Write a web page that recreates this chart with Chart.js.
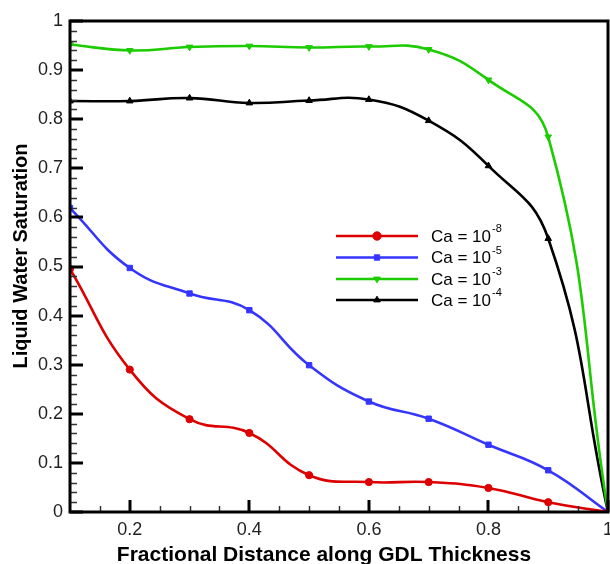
<!DOCTYPE html>
<html lang="en">
<head>
    <meta charset="UTF-8">
    <title>Liquid Water Saturation</title>
    <script src="https://cdn.jsdelivr.net/npm/chart.js"></script>
    <style>
        body { margin: 0; background: #fff; }
        canvas { display: block; }
    </style>
</head>
<body>
    <canvas id="chart" width="610" height="564"></canvas>

    <script>
        // fractional distance along the GDL
        const xValues = [0.1, 0.2, 0.3, 0.4, 0.5, 0.6, 0.7, 0.8, 0.9, 1.0];

        const caMinus8 = [0.495, 0.290, 0.189, 0.161, 0.075, 0.061, 0.061, 0.049, 0.020, 0.0];
        const caMinus5 = [0.619, 0.497, 0.445, 0.411, 0.299, 0.225, 0.190, 0.137, 0.085, 0.0];
        const caMinus3 = [0.952, 0.940, 0.947, 0.949, 0.946, 0.948, 0.942, 0.880, 0.764, 0.0];
        const caMinus4 = [0.837, 0.837, 0.843, 0.833, 0.838, 0.840, 0.797, 0.705, 0.557, 0.0];

        const seriesNames = ['Ca = 10', 'Ca = 10', 'Ca = 10', 'Ca = 10'];
        const seriesExps = ['-8', '-5', '-3', '-4'];

        const xTicks = [0.2, 0.4, 0.6, 0.8, 1];
        const yTicks = [0, 0.1, 0.2, 0.3, 0.4, 0.5, 0.6, 0.7, 0.8, 0.9, 1];

        const xTitle = 'Fractional Distance along GDL Thickness';
        const yTitle = 'Liquid Water Saturation';

        const styles = [
            { color: '#dd0000', point: 'circle', radius: 3.6, legendRadius: 4.2, rotation: 0 },
            { color: '#3535ff', point: 'rect', radius: 3.8, legendRadius: 3.8, rotation: 0 },
            { color: '#1ccc00', point: 'triangle', radius: 3.8, legendRadius: 3.8, rotation: 180 },
            { color: '#000000', point: 'triangle', radius: 3.8, legendRadius: 3.8, rotation: 0 }
        ];

        const allSeries = [caMinus8, caMinus5, caMinus3, caMinus4];

        const datasets = allSeries.map((vals, i) => ({
            label: seriesNames[i] + seriesExps[i],
            data: vals.map((v, j) => ({ x: xValues[j], y: v })),
            borderColor: styles[i].color,
            backgroundColor: styles[i].color,
            borderWidth: 2.6,
            pointStyle: styles[i].point,
            pointRadius: styles[i].radius,
            pointRotation: styles[i].rotation,
            pointBorderWidth: 1,
            tension: 0.45
        }));

        const FONT = '"Liberation Sans", Arial, sans-serif';

        // inward ticks, frame, axis titles and legend
        const framePlugin = {
            id: 'frame',
            afterDraw(chart) {
                const ctx = chart.ctx;
                const a = chart.chartArea;
                const xs = chart.scales.x;
                const ys = chart.scales.y;
                ctx.save();

                // minor ticks
                ctx.lineWidth = 1.5;
                ctx.strokeStyle = '#333';
                for (let k = 0; k <= 50; k++) {
                    if (k % 5 === 0) continue;
                    const py = Math.round(ys.getPixelForValue(k * 0.02)) + 0.5;
                    ctx.beginPath();
                    ctx.moveTo(a.left, py);
                    ctx.lineTo(a.left + 7, py);
                    ctx.stroke();
                }
                for (let k = 3; k < 20; k++) {
                    if (k % 4 === 0) continue;
                    const px = Math.round(xs.getPixelForValue(k * 0.05)) + 0.5;
                    ctx.beginPath();
                    ctx.moveTo(px, a.bottom);
                    ctx.lineTo(px, a.bottom - 6);
                    ctx.stroke();
                }

                // major ticks
                ctx.strokeStyle = '#000';
                ctx.lineWidth = 3;
                yTicks.forEach(v => {
                    const py = Math.round(ys.getPixelForValue(v));
                    ctx.beginPath();
                    ctx.moveTo(a.left, py);
                    ctx.lineTo(a.left + 13, py);
                    ctx.stroke();
                });
                xTicks.forEach(v => {
                    const px = Math.round(xs.getPixelForValue(v));
                    ctx.beginPath();
                    ctx.moveTo(px, a.bottom);
                    ctx.lineTo(px, a.bottom - 12);
                    ctx.stroke();
                });

                // frame
                ctx.lineWidth = 3;
                ctx.strokeRect(a.left, a.top, a.right - a.left, a.bottom - a.top);

                // axis titles
                ctx.fillStyle = '#000';
                ctx.textAlign = 'center';
                ctx.textBaseline = 'alphabetic';
                ctx.font = 'bold 21px ' + FONT;
                ctx.fillText(xTitle, 324, 561);

                ctx.save();
                ctx.translate(21, 256);
                ctx.rotate(-Math.PI / 2);
                ctx.textBaseline = 'middle';
                ctx.font = 'bold 20px ' + FONT;
                ctx.fillText(yTitle, 0, 0);
                ctx.restore();

                // legend
                const lx0 = 336, lx1 = 418, tx = 431;
                const rowY = [236, 257.5, 279, 300];
                chart.data.datasets.forEach((ds, i) => {
                    const y = rowY[i];
                    ctx.strokeStyle = ds.borderColor;
                    ctx.lineWidth = 2.6;
                    ctx.beginPath();
                    ctx.moveTo(lx0, y);
                    ctx.lineTo(lx1, y);
                    ctx.stroke();
                    ctx.fillStyle = ds.borderColor;
                    ctx.lineWidth = 1;
                    Chart.helpers.drawPoint(ctx, {
                        pointStyle: ds.pointStyle,
                        radius: styles[i].legendRadius,
                        rotation: ds.pointRotation,
                        borderWidth: 1
                    }, (lx0 + lx1) / 2, y);

                    ctx.fillStyle = '#000';
                    ctx.textBaseline = 'middle';
                    ctx.textAlign = 'left';
                    ctx.font = '17px ' + FONT;
                    ctx.fillText(seriesNames[i], tx, y + 1);
                    const w = ctx.measureText(seriesNames[i]).width;
                    ctx.font = '11px ' + FONT;
                    ctx.fillText(seriesExps[i], tx + w + 1, y - 7);
                });
                ctx.restore();
            }
        };

        new Chart(document.getElementById('chart'), {
            type: 'line',
            data: { datasets: datasets },
            options: {
                responsive: false,
                animation: false,
                layout: { autoPadding: false, padding: { top: 21, right: 2, left: 0, bottom: 0 } },
                plugins: {
                    legend: { display: false },
                    tooltip: { enabled: false }
                },
                scales: {
                    x: {
                        type: 'linear',
                        min: 0.1,
                        max: 1,
                        afterBuildTicks: scale => {
                            scale.ticks = xTicks.map(v => ({ value: v }));
                        },
                        afterFit: scale => {
                            scale.height = 52;
                            scale.paddingLeft = 0;
                            scale.paddingRight = 0;
                        },
                        grid: { display: false, drawTicks: false },
                        border: { display: false },
                        ticks: {
                            padding: 7,
                            color: '#222',
                            font: { family: FONT, size: 18 },
                            callback: v => String(Math.round(v * 10) / 10)
                        }
                    },
                    y: {
                        min: 0,
                        max: 1,
                        afterBuildTicks: scale => {
                            scale.ticks = yTicks.map(v => ({ value: v }));
                        },
                        afterFit: scale => {
                            scale.width = 70;
                            scale.paddingTop = 0;
                            scale.paddingBottom = 0;
                        },
                        grid: { display: false, drawTicks: false },
                        border: { display: false },
                        ticks: {
                            padding: 7,
                            color: '#222',
                            font: { family: FONT, size: 18 },
                            callback: v => String(Math.round(v * 10) / 10)
                        }
                    }
                }
            },
            plugins: [framePlugin]
        });
    </script>
</body>
</html>
